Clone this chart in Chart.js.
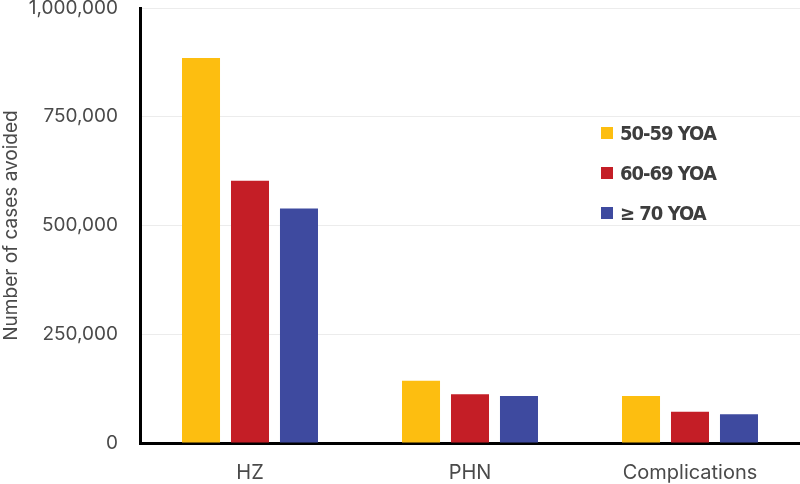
<!DOCTYPE html>
<html>
<head>
<meta charset="utf-8">
<script src="https://cdn.jsdelivr.net/npm/chart.js@4"></script>
<style>
  body { margin: 0; background: #fff; }
  #wrap { position: relative; width: 800px; height: 484px; }
  #legend { position: absolute; left: 601px; top: 113px; font-family: "DejaVu Sans Condensed", "Liberation Sans Narrow", Roboto, sans-serif; font-weight: bold; font-size: 20px; letter-spacing: -1px; color: #3d3d3d; }
  #legend .item { display: flex; align-items: center; height: 40px; }
  #legend .box { width: 12px; height: 12px; margin-right: 7px; }
</style>
</head>
<body>
<div id="wrap">
  <canvas id="chart" width="800" height="484"></canvas>
  <div id="legend"></div>
</div>
<script>
// casos evitados por grupo de edad
const categorias = ['HZ', 'PHN', 'Complications'];
const series = ['50-59 YOA', '60-69 YOA', '\u2265 70 YOA'];
const valores5059 = [885000, 143000, 108000];
const valores6069 = [603000, 112000, 72000];
const valores70 = [539000, 108000, 66000];
const colores = ['#FDBE10', '#C41E26', '#3E4A9F'];
const ticksY = [0, 250000, 500000, 750000, 1000000];

const datos = [valores5059, valores6069, valores70];

new Chart(document.getElementById('chart').getContext('2d'), {
  type: 'bar',
  data: {
    labels: categorias,
    datasets: series.map((s, i) => ({
      label: s,
      data: datos[i],
      backgroundColor: colores[i],
      categoryPercentage: 0.668,
      barPercentage: 0.776
    }))
  },
  options: {
    responsive: false,
    animation: false,
    layout: { padding: { top: 8 } },
    plugins: { legend: { display: false }, tooltip: { enabled: false } },
    scales: {
      x: {
        grid: { display: false, drawTicks: false },
        border: { color: '#000', width: 3 },
        ticks: { padding: 18, color: '#4a4a4a', font: { family: 'Inter', size: 20 } },
        afterFit: s => { s.height = 41; }
      },
      y: {
        min: 0,
        max: ticksY[ticksY.length - 1],
        afterBuildTicks: s => { s.ticks = ticksY.map(v => ({ value: v })); },
        grid: { color: '#ececec', lineWidth: 1, drawTicks: false },
        border: { color: '#000', width: 3 },
        ticks: {
          padding: 22,
          color: '#4a4a4a',
          font: { family: 'Inter', size: 19 },
          callback: v => Number(v).toLocaleString('en-US')
        },
        title: {
          display: true,
          text: 'Number of cases avoided',
          color: '#4a4a4a',
          font: { family: 'Inter', size: 19 },
          padding: { top: 0, bottom: 0 }
        },
        afterFit: s => { s.width = 140; s.paddingTop = 0; s.paddingBottom = 0; }
      }
    }
  }
});

// leyenda
const legendDiv = document.getElementById('legend');
series.forEach((s, i) => {
  const item = document.createElement('div');
  item.className = 'item';
  item.innerHTML = `<span class="box" style="background:${colores[i]}"></span><span>${s}</span>`;
  legendDiv.appendChild(item);
});
</script>
</body>
</html>
